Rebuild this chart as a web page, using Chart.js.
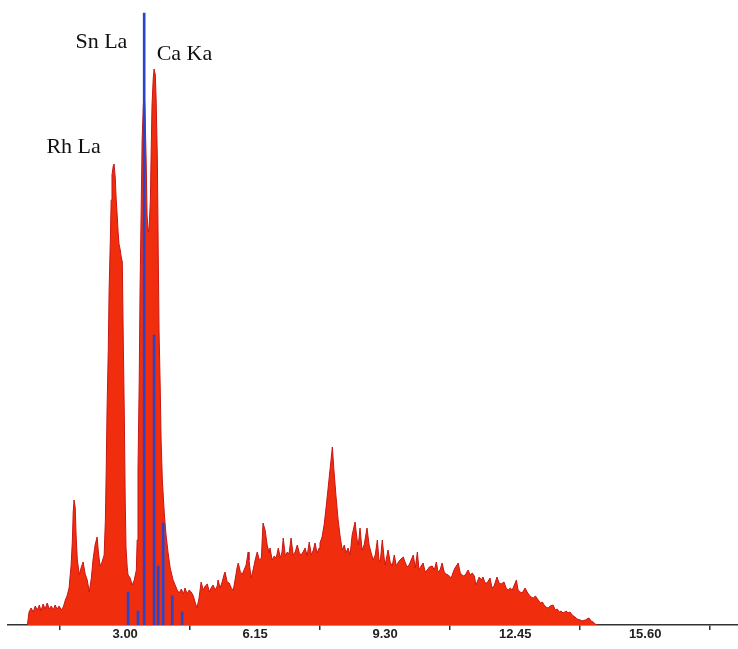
<!DOCTYPE html>
<html>
<head>
<meta charset="utf-8">
<script src="https://cdn.jsdelivr.net/npm/chart.js@4.4.1/dist/chart.umd.min.js"></script>
<style>
    html, body { margin: 0; padding: 0; background: #fff; }
    #wrap { width: 738px; height: 649px; position: relative; }
</style>
</head>
<body>
<div id="wrap"><canvas id="spectrum"></canvas></div>
<script>
// spectrum (keV / counts)
const energyKeV = [
    0.63, 0.67, 0.72, 0.77, 0.82, 0.87, 0.92, 0.96, 1.01, 1.06, 1.11, 1.16, 1.21, 1.26, 1.30, 1.35, 1.40, 1.45, 1.50, 1.55,
    1.59, 1.64, 1.69, 1.72, 1.74, 1.76, 1.79, 1.81, 1.84, 1.89, 1.93, 1.98, 2.03, 2.08, 2.13, 2.18, 2.22, 2.27, 2.32, 2.35,
    2.39, 2.44, 2.49,
    2.52, 2.54, 2.56, 2.59, 2.61, 2.64, 2.66, 2.68, 2.71, 2.73, 2.76, 2.78, 2.81, 2.83, 2.85, 2.88, 2.90, 2.93, 2.95, 2.98,
    3.00, 3.02, 3.05, 3.07, 3.12, 3.17, 3.22, 3.27,
    3.29, 3.31, 3.34, 3.36, 3.39, 3.41, 3.44, 3.46, 3.48, 3.51, 3.53, 3.56, 3.58, 3.61, 3.63, 3.65, 3.68, 3.70, 3.73, 3.75,
    3.78, 3.80, 3.82, 3.85, 3.87, 3.90, 3.95, 3.99, 4.04, 4.09, 4.16,
    4.26, 4.31, 4.36, 4.41, 4.45, 4.50, 4.55, 4.60, 4.65, 4.70, 4.74, 4.79, 4.84, 4.89, 4.94, 4.99, 5.04, 5.08, 5.13, 5.18,
    5.23, 5.25, 5.30, 5.35, 5.40, 5.42, 5.47, 5.52, 5.57, 5.62, 5.67, 5.71, 5.74, 5.79, 5.84, 5.88, 5.93, 5.98, 6.00, 6.05,
    6.10, 6.15, 6.20, 6.25, 6.30, 6.34, 6.39, 6.44, 6.49, 6.51, 6.56, 6.61, 6.66, 6.71, 6.76, 6.80, 6.83, 6.88, 6.93, 6.97,
    7.02, 7.07, 7.12, 7.17, 7.22, 7.26, 7.31, 7.36, 7.41, 7.46, 7.51, 7.56, 7.60, 7.65, 7.70, 7.72, 7.77, 7.82, 7.87, 7.92,
    7.97, 8.02, 8.06, 8.11, 8.16, 8.21, 8.26, 8.31, 8.35, 8.40, 8.45, 8.50, 8.57, 8.62, 8.65, 8.69, 8.74, 8.79, 8.86, 8.91,
    8.96, 9.01, 9.06, 9.11, 9.15, 9.18, 9.23, 9.28, 9.30, 9.37, 9.42, 9.47, 9.52, 9.57, 9.62, 9.66, 9.74, 9.78, 9.83, 9.88,
    9.93, 9.98, 10.03, 10.08, 10.12, 10.17, 10.22, 10.27, 10.32, 10.37, 10.44, 10.49, 10.54, 10.58, 10.63, 10.68, 10.73, 10.78, 10.83, 10.90,
    10.95, 10.99, 11.04, 11.07, 11.12, 11.19, 11.24, 11.31, 11.36, 11.41, 11.46, 11.50, 11.58, 11.63, 11.67, 11.72, 11.77, 11.84, 11.89, 11.94,
    12.01, 12.06, 12.11, 12.18, 12.23, 12.28, 12.33, 12.38, 12.43, 12.48, 12.52, 12.57, 12.62, 12.69, 12.74, 12.79, 12.84, 12.89, 12.94, 13.01,
    13.06, 13.11, 13.15, 13.20, 13.25, 13.30, 13.37, 13.42, 13.47, 13.52, 13.56, 13.61, 13.69, 13.73, 13.78, 13.83, 13.90, 13.95, 14.03, 14.07,
    14.15, 14.19, 14.24, 14.29, 14.34, 14.39, 14.44,
];
const counts = [
    0, 13, 17, 13, 19, 15, 20, 14, 21, 16, 22, 16, 19, 15, 20, 16, 19, 15, 18, 25,
    29, 37, 60, 85, 113, 125, 117, 90, 65, 50, 57, 63, 51, 45, 33, 47, 65, 80, 88, 73,
    59, 63, 70,
    105, 155, 215, 275, 335, 385, 425, 450, 459, 461, 447, 427, 407, 392, 381, 375, 369, 363, 295, 205,
    125, 77, 57, 50, 47, 40, 45, 55,
    85, 155, 245, 335, 425, 485, 520, 532, 515, 460, 410, 393, 397, 425, 475, 520, 547, 556, 550, 525,
    465, 375, 295, 235, 185, 145, 110, 90, 72, 57, 45,
    35, 32, 36, 31, 37, 31, 35, 33, 29, 22, 17, 27, 43, 35, 39, 41, 33, 37, 40, 35,
    39, 45, 37, 43, 51, 53, 43, 42, 37, 35, 47, 57, 62, 53, 51, 55, 60, 73, 65, 47,
    55, 65, 73, 65, 67, 102, 95, 80, 72, 77, 65, 69, 67, 77, 67, 73, 87, 69, 73, 71,
    87, 70, 73, 80, 72, 70, 73, 77, 69, 83, 70, 75, 82, 72, 77, 82, 88, 100, 118, 138,
    158, 178, 154, 128, 105, 88, 75, 80, 72, 77, 70, 90, 103, 85, 80, 97, 75, 80, 97, 80,
    72, 65, 70, 85, 65, 63, 85, 65, 60, 75, 63, 59, 70, 59, 63, 65, 68, 63, 58, 60,
    65, 70, 57, 73, 55, 59, 62, 53, 55, 58, 59, 55, 63, 53, 55, 62, 53, 51, 50, 47,
    53, 57, 60, 62, 52, 49, 50, 55, 50, 52, 49, 40, 48, 45, 48, 42, 42, 47, 37, 39,
    48, 42, 41, 43, 37, 35, 37, 35, 40, 45, 35, 33, 32, 37, 33, 30, 28, 27, 29, 25,
    22, 23, 20, 18, 17, 19, 20, 15, 16, 13, 14, 12, 14, 12, 13, 10, 8, 6, 5, 4,
    5, 6, 7, 4, 3, 1, 0,
];

// element marker lines
const lineEnergies = [3.07, 3.31, 3.46, 3.70, 3.80, 3.92, 4.14, 4.38];
const lineCounts = [33, 14, 612, 290, 59, 102, 29, 13];

const peakNames = ['Rh La', 'Sn La', 'Ca Ka'];
const peakEnergies = [2.70, 3.44, 3.69];

const tickValues = [1.425, 3.00, 4.575, 6.15, 7.725, 9.30, 10.875, 12.45, 14.025, 15.60, 17.175];
const labeledTicks = [3.00, 6.15, 9.30, 12.45, 15.60];

const isLabeled = v => labeledTicks.some(t => Math.abs(t - v) < 1e-6);

const peakLabels = {
    id: 'peakLabels',
    afterDatasetsDraw(chart, args, opts) {
        const { ctx, chartArea, scales } = chart;
        ctx.save();
        ctx.font = '22px "Liberation Serif", "Times New Roman", serif';
        ctx.fillStyle = '#111';
        ctx.textBaseline = 'alphabetic';
        peakNames.forEach(function (name, i) {
            const p = opts.placement[i];
            ctx.textAlign = p.align;
            ctx.fillText(name, scales.x.getPixelForValue(peakEnergies[i]) + p.dx, chartArea.top + p.dy);
        });
        ctx.restore();
    },
};

new Chart(document.getElementById('spectrum'), {
    type: 'line',
    data: {
        datasets: [
            {
                type: 'bar',
                data: lineEnergies.map((e, i) => ({ x: e, y: lineCounts[i] })),
                backgroundColor: '#2846c8',
                barThickness: 2,
                grouped: false,
                order: 0,
            },
            {
                type: 'line',
                data: energyKeV.map((e, i) => ({ x: e, y: counts[i] })),
                borderColor: '#c81614',
                borderWidth: 1,
                backgroundColor: '#f02e0e',
                fill: 'origin',
                pointRadius: 0,
                tension: 0,
                order: 1,
            },
        ],
    },
    options: {
        responsive: true,
        maintainAspectRatio: false,
        animation: false,
        layout: { padding: { top: 12, left: 8, right: 0, bottom: 0 } },
        plugins: {
            legend: { display: false },
            tooltip: { enabled: false },
            peakLabels: {
                placement: [
                    { align: 'right', dx: -12, dy: 141 },
                    { align: 'right', dx: -16, dy: 36 },
                    { align: 'left', dx: 3, dy: 48 },
                ],
            },
        },
        scales: {
            x: {
                type: 'linear',
                offset: false,
                min: 0.16,
                max: 17.85,
                afterBuildTicks(scale) {
                    scale.ticks = tickValues.map(v => ({ value: v }));
                },
                afterFit(scale) {
                    scale.height = 24;
                },
                border: { display: true, color: '#333', width: 1.5 },
                grid: {
                    offset: false,
                    drawOnChartArea: false,
                    drawTicks: true,
                    tickLength: 5,
                    color: ctx => (ctx.tick && isLabeled(ctx.tick.value) ? 'rgba(0,0,0,0)' : '#333'),
                    lineWidth: 1.5,
                },
                ticks: {
                    autoSkip: false,
                    maxRotation: 0,
                    padding: -3,
                    color: '#222',
                    font: { family: '"Liberation Sans Narrow", "Liberation Sans", Arial, sans-serif', size: 13, weight: 'bold' },
                    callback: v => (isLabeled(v) ? v.toFixed(2) : ''),
                },
            },
            y: {
                display: false,
                min: 0,
                max: 613,
            },
        },
    },
    plugins: [peakLabels],
});
</script>
</body>
</html>
